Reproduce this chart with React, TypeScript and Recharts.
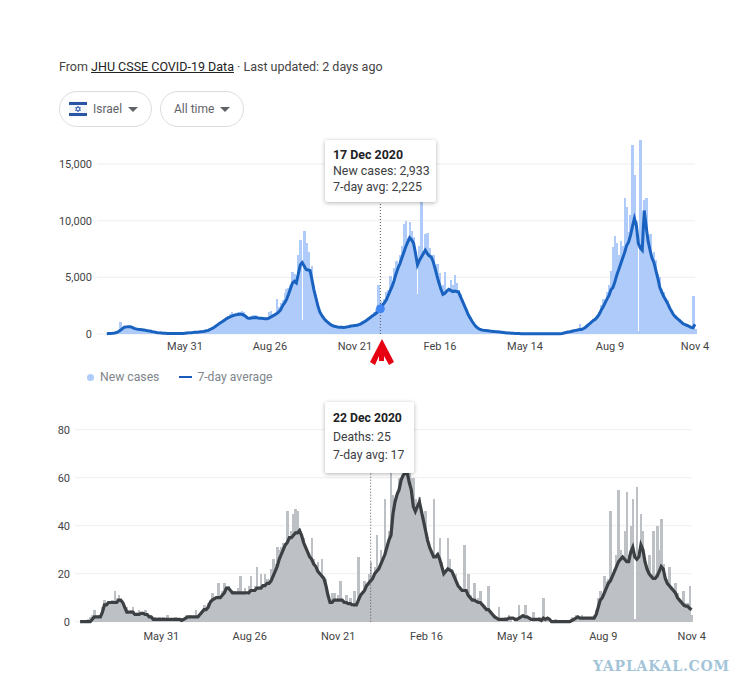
import {
  ComposedChart,
  Bar,
  Line,
  XAxis,
  YAxis,
  CartesianGrid,
  Tooltip,
  Legend,
  ReferenceLine,
  ReferenceDot,
} from "recharts";

const FONT = "Roboto, Arial, sans-serif";

// one value every second day, starting 12 Mar 2020
const DAY_STEP = 2;

const xTicks = [80, 167, 254, 341, 428, 515, 602];
const xTickLabels = ["May 31", "Aug 26", "Nov 21", "Feb 16", "May 14", "Aug 9", "Nov 4"];

const caseTicks = [0, 5000, 10000, 15000];
const deathTicks = [0, 20, 40, 60, 80];

const newCases = [
  20, 30, 40, 60, 90, 140, 260, 1060, 560, 640,
  700, 720, 660, 560, 480, 420, 400, 380, 360, 380,
  300, 260, 240, 240, 180, 140, 110, 100, 80, 60,
  50, 50, 40, 50, 30, 40, 40, 40, 50, 50,
  60, 80, 110, 130, 120, 160, 170, 160, 200, 220,
  250, 290, 340, 440, 530, 640, 780, 920, 1050, 1150,
  1300, 1450, 1600, 1750, 1900, 1750, 1700, 1900, 1950, 2000,
  1900, 1600, 1500, 1250, 1550, 1650, 1700, 1500, 1500, 1500,
  1400, 1450, 1400, 1900, 2000, 1700, 1850, 3100, 2400, 2700,
  3000, 3600, 3950, 4100, 4300, 5470, 5300, 5100, 7000, 8300,
  1200, 9060, 8000, 7200, 5700, 6000, 4200, 3400, 2600, 2000,
  1700, 1500, 1250, 1100, 950, 800, 720, 680, 640, 620,
  600, 590, 620, 650, 700, 720, 760, 780, 790, 850,
  950, 1080, 1150, 1300, 1400, 1560, 1750, 1900, 2200, 4300,
  2933, 2700, 3100, 3700, 3900, 5100, 4500, 5800, 6400, 6200,
  7000, 7800, 9700, 10000, 8500, 9900, 9100, 8600, 7200, 3560,
  7800, 11800, 7000, 8850, 8900, 7600, 7000, 7000, 5900, 6200,
  5400, 4000, 4300, 5470, 3900, 3800, 4800, 4300, 5240, 4500,
  3900, 3500, 3000, 2600, 2200, 1800, 1500, 1150, 900, 700,
  520, 420, 370, 330, 320, 290, 270, 260, 240, 220,
  200, 180, 160, 140, 120, 100, 85, 75, 65, 55,
  45, 40, 35, 35, 30, 30, 30, 30, 30, 30,
  30, 30, 35, 30, 30, 30, 30, 30, 30, 35,
  30, 30, 40, 60, 100, 140, 180, 220, 260, 300,
  340, 380, 900, 450, 550, 650, 830, 1000, 1150, 1350,
  1450, 1700, 1900, 2600, 3100, 3000, 3700, 4300, 5600, 7700,
  8620, 8000, 7000, 8200, 7800, 12000, 11200, 9000, 10500, 16650,
  14000, 10000, 300, 17100, 9000, 11800, 12000, 8400, 8800, 6800,
  7200, 6500, 5300, 5000, 4000, 3700, 3200, 3000, 2500, 2150,
  1800, 1650, 1450, 1300, 1150, 1000, 900, 800, 720, 620, 3350, 470,
];

const casesAvg = [
  30, 40, 50, 60, 90, 130, 220, 330, 480, 600,
  630, 650, 650, 580, 500, 450, 420, 400, 380, 360,
  320, 280, 260, 220, 190, 150, 120, 100, 90, 70,
  60, 50, 50, 45, 40, 40, 40, 40, 40, 50,
  70, 90, 100, 120, 130, 150, 160, 170, 190, 210,
  240, 280, 320, 420, 500, 600, 720, 850, 970, 1080,
  1200, 1320, 1420, 1500, 1580, 1640, 1700, 1720, 1750, 1740,
  1680, 1560, 1420, 1370, 1420, 1440, 1450, 1430, 1400, 1390,
  1370, 1350, 1340, 1400, 1500, 1600, 1700, 1800, 1950, 2150,
  2500, 2750, 3050, 3500, 4000, 4500, 4650, 4500, 5300, 6100,
  6300, 6000, 5700, 5650, 5600, 4800, 3900, 3200, 2500, 1950,
  1650, 1400, 1200, 1050, 900, 780, 700, 660, 620, 600,
  590, 580, 600, 630, 660, 700, 720, 750, 770, 820,
  900, 1000, 1100, 1220, 1350, 1480, 1600, 1720, 1850, 2000,
  2225, 2500, 2750, 3000, 3400, 3800, 4200, 4700, 5300, 5800,
  6200, 6700, 7200, 7700, 8100, 8500, 8300, 8000, 7100, 6100,
  6500, 6800, 7100, 7400, 7100, 6900, 6800, 6400, 5800, 5100,
  4500, 3950, 3500, 3600, 3800, 3950, 3850, 3750, 3800, 3750,
  3700, 3300, 2900, 2500, 2100, 1700, 1400, 1100, 850, 650,
  500, 400, 350, 320, 300, 280, 260, 250, 230, 210,
  190, 170, 150, 130, 110, 90, 80, 70, 60, 50,
  40, 35, 30, 30, 30, 30, 30, 30, 30, 30,
  30, 30, 30, 30, 30, 30, 30, 30, 30, 30,
  30, 30, 30, 50, 90, 130, 170, 200, 240, 280,
  320, 360, 390, 400, 480, 600, 750, 900, 1050, 1200,
  1300, 1500, 1750, 2100, 2400, 2750, 3100, 3400, 3900, 4100,
  4600, 5200, 5700, 6200, 6700, 7200, 7800, 8100, 8700, 9500,
  10200, 9600, 8000, 7600, 7400, 10900, 9500, 8200, 7400, 6700,
  6300, 5600, 4900, 4100, 3700, 3300, 3000, 2700, 2300, 2000,
  1700, 1500, 1350, 1200, 1050, 900, 820, 750, 670, 580, 550, 850,
];

const deaths = [
  0, 0, 0, 0, 1, 2, 3, 5, 2, 3,
  3, 6, 9, 8, 8, 8, 9, 13, 10, 11,
  9, 8, 6, 6, 4, 5, 6, 3, 4, 5,
  4, 4, 5, 3, 3, 2, 2, 2, 1, 2,
  1, 2, 1, 3, 1, 1, 1, 2, 1, 1,
  1, 1, 3, 2, 3, 2, 2, 5, 3, 3,
  5, 7, 6, 8, 9, 12, 10, 10, 16, 10,
  13, 16, 14, 15, 13, 12, 13, 12, 14, 19,
  12, 14, 11, 15, 19, 13, 15, 23, 14, 20,
  15, 20, 18, 17, 22, 26, 24, 31, 30, 31,
  33, 33, 46, 35, 38, 45, 47, 46, 38, 35,
  35, 31, 29, 27, 35, 26, 23, 25, 20, 26,
  18, 18, 11, 8, 12, 12, 9, 11, 17, 9,
  9, 11, 7, 10, 6, 13, 7, 27, 12, 11,
  17, 15, 20, 25, 18, 23, 36, 22, 30, 27,
  51, 31, 38, 62, 53, 50, 54, 60, 60, 60,
  62, 62, 64, 60, 60, 51, 48, 52, 46, 42,
  46, 34, 31, 29, 51, 27, 28, 35, 25, 20,
  22, 35, 26, 22, 20, 20, 15, 14, 13, 32,
  13, 20, 11, 10, 16, 9, 10, 13, 7, 7,
  6, 15, 4, 3, 3, 2, 6, 1, 1, 2,
  1, 3, 2, 0, 2, 1, 7, 2, 3, 7,
  1, 2, 0, 4, 1, 0, 2, 0, 10, 1,
  2, 0, 0, 0, 1, 0, 0, 0, 0, 0,
  0, 0, 2, 1, 3, 2, 1, 3, 1, 2,
  1, 2, 1, 3, 5, 10, 13, 10, 19, 17,
  18, 46, 19, 22, 28, 55, 30, 26, 38, 54,
  28, 40, 51, 1, 56, 30, 45, 38, 27, 23,
  28, 19, 38, 20, 40, 30, 43, 24, 18, 18,
  23, 14, 13, 16, 12, 9, 9, 13, 8, 8, 15, 3,
];

const deathsAvg = [
  0, 0, 0, 0, 0, 0, 1, 2, 2, 2,
  2, 4, 7, 7, 8, 8, 8, 8, 8, 9,
  9, 8, 6, 4, 4, 4, 4, 3, 3, 3,
  3.5, 3.5, 3, 3, 2, 2, 1, 1, 1, 1,
  1, 1, 1, 1, 1, 1, 1, 1, 1, 1,
  0.5, 1, 1.5, 2, 2, 2, 2, 2, 2, 3,
  4, 5, 5, 6, 8, 9, 9.5, 10, 10, 10,
  11, 12, 14, 14, 13, 12, 12, 12, 12, 12,
  12, 12, 12, 12, 13, 13, 13, 14, 14, 14,
  15, 15, 16, 16, 17, 19, 21, 23, 26, 28,
  30, 32, 33, 35, 35, 36, 37, 37, 38, 36,
  33, 31, 29, 27, 26, 24, 23, 21, 20, 19,
  18, 15, 11, 8, 8, 9, 9, 9, 9, 9,
  8, 8, 7.5, 7.5, 7, 7, 7, 9, 11, 12,
  13, 15, 16, 17, 18, 20, 21, 22, 24, 26,
  28, 31, 34, 36, 45, 50, 53, 55, 59, 61,
  62, 62, 58, 55, 48, 46, 48, 50, 46, 42,
  38, 34, 31, 29, 27, 27, 28, 26, 23, 20,
  21, 22, 21.5, 21, 19, 17, 15, 14, 13, 13,
  13, 11, 10, 9, 9, 8.5, 8, 8, 7, 6,
  5, 5, 4, 3, 2, 1.5, 1, 1, 1, 1,
  1, 1.5, 1.5, 1.5, 1, 1, 1.5, 2, 2.5, 2,
  2, 1.5, 1, 1, 1, 1, 1, 0.5, 1.5, 1,
  1.5, 1, 0, 0, 0, 0, 0, 0, 0, 0,
  0, 0, 0.5, 1, 1.5, 2, 1.5, 1.5, 1.5, 1.5,
  1.5, 1.5, 1.5, 1.5, 3, 6, 9, 10, 12, 14,
  16, 17, 19, 21, 23, 25, 26, 27, 26, 25,
  25, 29, 31, 27, 26, 27, 32, 30, 25, 22,
  20, 19, 18, 18, 19, 21, 23, 22, 18, 16,
  15, 14, 13, 12, 10, 9, 8, 7, 6.5, 6.5, 5.5, 5,
];

const casesData = newCases.map((v, i) => ({ day: i * DAY_STEP, bar: v, avg: casesAvg[i] }));
const deathsData = deaths.map((v, i) => ({ day: i * DAY_STEP, bar: v, avg: deathsAvg[i] }));

const formatXTick = (v: number) => xTickLabels[xTicks.indexOf(v)];

// recharts squeezes bars to 90% of the band here, which leaves white seams
function SolidBar({ x, y, width, height, fill }: any) {
  return <rect x={x - 0.3} y={y} width={width + 0.6} height={height} fill={fill} shapeRendering="crispEdges" />;
}

// dotted hover line, runs a bit past the axis like the Google one
function HoverLine({ x1, y1, x2, y2, below }: any) {
  return (
    <line x1={x1} x2={x2} y1={y1} y2={y2 + below} stroke="#555" strokeWidth={1} strokeDasharray="1 2" />
  );
}

function HoverBox({ title, barLabel, payload, lineGap, width, height, fontSize }: any) {
  const bar = payload?.find((p: any) => p.dataKey === "bar")?.value ?? 0;
  const avg = payload?.find((p: any) => p.dataKey === "avg")?.value ?? 0;
  return (
    <div
      style={{
        background: "#fff",
        width,
        height,
        boxSizing: "border-box",
        padding: "7px 8px",
        boxShadow: "0 1px 4px rgba(0,0,0,0.3)",
        borderRadius: 2,
        fontFamily: FONT,
        fontSize,
        color: "#3c4043",
        lineHeight: `${lineGap}px`,
        whiteSpace: "nowrap",
      }}
    >
      <div style={{ fontWeight: 700, color: "#202124" }}>{title}</div>
      <div>{barLabel}: {bar.toLocaleString("en-US")}</div>
      <div>7-day avg: {avg.toLocaleString("en-US")}</div>
    </div>
  );
}

function CasesLegend() {
  const text = { fontFamily: FONT, fontSize: 12.2, color: "#80868b" };
  return (
    <div style={{ display: "flex", alignItems: "center", height: 16, ...text }}>
      <span style={{ width: 7, height: 7, borderRadius: "50%", background: "#aecbfa", marginRight: 6 }} />
      <span>New cases</span>
      <span style={{ width: 13, height: 2, background: "#185abc", marginLeft: 20, marginRight: 5 }} />
      <span>7-day average</span>
    </div>
  );
}

function Pill({ left, width, label, flag }: any) {
  return (
    <div
      style={{
        position: "absolute",
        left,
        top: 91,
        width,
        height: 36,
        boxSizing: "border-box",
        border: "1px solid #dadce0",
        borderRadius: 18,
        fontFamily: FONT,
        fontSize: 12,
        color: "#5f6368",
      }}
    >
      {flag && (
        <svg width={18} height={16} style={{ position: "absolute", left: 9, top: 9 }}>
          <rect width={18} height={16} fill="#f4f6fa" />
          <rect y={1} width={18} height={3} fill="#2a55a5" />
          <rect y={12} width={18} height={3} fill="#2a55a5" />
          <path d="M9 5 L11.5 9.5 L6.5 9.5 Z M9 11 L6.5 6.5 L11.5 6.5 Z" fill="none" stroke="#2a55a5" strokeWidth={0.7} />
        </svg>
      )}
      <span style={{ position: "absolute", left: flag ? 33 : 13, top: 10 }}>{label}</span>
      <svg width={10} height={5} style={{ position: "absolute", right: 13, top: 15 }}>
        <path d="M0 0 L10 0 L5 5 Z" fill="#5f6368" />
      </svg>
    </div>
  );
}

export default function App() {
  const axisTick = { fontFamily: FONT, fontSize: 11, fill: "#444" };
  return (
    <div style={{ position: "absolute", left: 0, top: 0, width: 756, height: 695, background: "#fff", overflow: "hidden" }}>
      <div style={{ position: "absolute", left: 59, top: 59, fontFamily: FONT, fontSize: 12.5, color: "#444", whiteSpace: "nowrap" }}>
        From <span style={{ textDecoration: "underline", color: "#222" }}>JHU CSSE COVID-19 Data</span> · Last updated: 2 days ago
      </div>
      <Pill left={59} width={93} label="Israel" flag />
      <Pill left={160} width={84} label="All time" />

      <div style={{ position: "absolute", left: 0, top: 130 }}>
        <ComposedChart
          width={756}
          height={260}
          data={casesData}
          margin={{ top: 5.7, right: 61, bottom: 26, left: 47 }}
          barGap={0}
        >
          <CartesianGrid vertical={false} stroke="#eeeeee" horizontalValues={caseTicks} />
          <XAxis
            dataKey="day"
            type="number"
            domain={[-10, 602]}
            ticks={xTicks}
            tickFormatter={formatXTick}
            axisLine={false}
            tickLine={false}
            tick={axisTick}
            tickMargin={2}
            interval={0}
          />
          <YAxis
            width={50}
            domain={[0, 17500]}
            ticks={caseTicks}
            tickFormatter={(v: number) => v.toLocaleString("en-US")}
            axisLine={false}
            tickLine={false}
            tick={axisTick}
            tickMargin={-1}
          />
          <Bar dataKey="bar" fill="#aecbfa" shape={SolidBar} isAnimationActive={false} />
          <Line dataKey="avg" type="linear" stroke="#1a62c0" strokeWidth={3} dot={false} activeDot={false} isAnimationActive={false} />
          <ReferenceLine x={280} shape={(p: any) => <HoverLine {...p} below={6} />} />
          <ReferenceDot x={280} y={2225} r={4} fill="#4285f4" stroke="#4285f4" />
          <Legend
            layout="horizontal"
            verticalAlign="middle"
            align="center"
            content={<CasesLegend />}
            wrapperStyle={{ left: 87, top: 239, width: 220, height: 16 }}
          />
          <Tooltip
            active
            defaultIndex={140}
            cursor={false}
            position={{ x: 325, y: 10 }}
            allowEscapeViewBox={{ x: true, y: true }}
            isAnimationActive={false}
            content={(p: any) => <HoverBox {...p} title="17 Dec 2020" barLabel="New cases" lineGap={16} width={111} height={62} fontSize={12.4} />}
          />
        </ComposedChart>
      </div>

      <div style={{ position: "absolute", left: 0, top: 400 }}>
        <ComposedChart
          width={756}
          height={260}
          data={deathsData}
          margin={{ top: 17.7, right: 64.3, bottom: 8.3, left: 25 }}
          barGap={0}
        >
          <CartesianGrid vertical={false} stroke="#eeeeee" horizontalValues={deathTicks} />
          <XAxis
            dataKey="day"
            type="number"
            domain={[-5, 602]}
            ticks={xTicks}
            tickFormatter={formatXTick}
            axisLine={false}
            tickLine={false}
            tick={axisTick}
            tickMargin={4}
            interval={0}
          />
          <YAxis
            width={50}
            domain={[0, 85]}
            ticks={deathTicks}
            axisLine={false}
            tickLine={false}
            tick={axisTick}
            tickMargin={-1}
          />
          <Bar dataKey="bar" fill="#bdc1c6" shape={SolidBar} isAnimationActive={false} />
          <Line dataKey="avg" type="linear" stroke="#3c4043" strokeWidth={3.2} dot={false} activeDot={false} isAnimationActive={false} />
          <ReferenceLine x={286} shape={(p: any) => <HoverLine {...p} below={31} />} />
          <Tooltip
            active
            defaultIndex={143}
            cursor={false}
            position={{ x: 325, y: 2 }}
            allowEscapeViewBox={{ x: true, y: true }}
            isAnimationActive={false}
            content={(p: any) => <HoverBox {...p} title="22 Dec 2020" barLabel="Deaths" lineGap={18.5} width={89} height={71} fontSize={12.2} />}
          />
        </ComposedChart>
      </div>

      {/* red arrow drawn over the screenshot */}
      <svg width={756} height={695} style={{ position: "absolute", left: 0, top: 0, pointerEvents: "none" }}>
        <path d="M382 339 L394 362 L389 365 L384 356 L384 361 L379 361 L379 356 L375 365 L370 362 Z" fill="#e60012" />
      </svg>
      <div
        style={{
          position: "absolute",
          left: 593,
          top: 658,
          fontFamily: "'DejaVu Serif', serif",
          fontWeight: 700,
          fontSize: 14,
          letterSpacing: 0.8,
          color: "#a3c5d9",
          whiteSpace: "nowrap",
        }}
      >
        YAPLAKAL.COM
      </div>
    </div>
  );
}
